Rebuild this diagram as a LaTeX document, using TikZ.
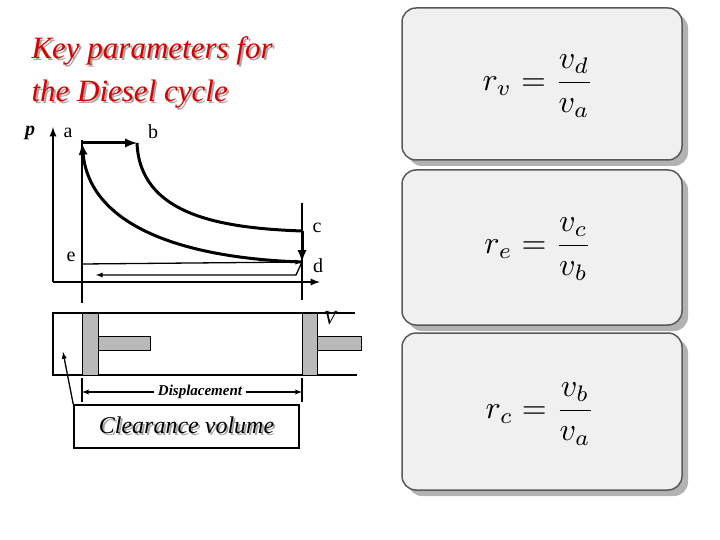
\documentclass[tikz,border=0pt]{standalone}
\usepackage{fontspec}
\setmainfont{Liberation Serif}
\newcommand{\shadowtxt}[1]{\rlap{\hspace{2pt}\raisebox{-2pt}{\color{gray!70}#1}}#1}
\begin{document}
\begin{tikzpicture}[x=1pt,y=-1pt,
  thick line/.style={line width=3pt},
  thin line/.style={line width=1.3pt},
  lbl/.style={font=\fontsize{20}{22}\selectfont},
  panel/.style={draw=gray!70!black,line width=1.5pt,rounded corners=14pt,fill=gray!12},
  shadowp/.style={fill=gray!60,rounded corners=14pt},
  piston/.style={fill=gray!55,draw=black,line width=1pt},
  eq/.style={scale=3.2},
  title/.style={font=\fontsize{31}{36}\selectfont\itshape,anchor=west,text=red!85!black}]
\useasboundingbox (0,0) rectangle (720,540);
% title
\node[title] (t1) at (28,52) {\shadowtxt{Key parameters for}};
\node[title] (t2) at (28,95) {\shadowtxt{the Diesel cycle}};
% axes
\coordinate (o) at (53,282);
\coordinate (ptop) at (53,127);
\coordinate (vend) at (320,282);
\draw[line width=2.2pt,-latex] (o) -- (ptop);
\draw[line width=2.2pt,-latex] (o) -- (vend);
\node[lbl,font=\fontsize{20}{22}\selectfont\bfseries\itshape] (p) at (30,133) {p};
% points
\coordinate (a) at (82,143);
\coordinate (b) at (137,143);
\coordinate (c) at (302,231);
\coordinate (d) at (302,262);
\coordinate (e) at (82,264);
\draw[thin line] (82,140) -- (82,303);
\draw[thin line] (302,203) -- (302,300);
\draw[thick line,-latex] (a) -- (b);
\draw[thick line] (b) .. controls (140,215) and (220,228) .. (c);
\draw[thick line,-latex] (c) -- (d);
\draw[thick line,-latex] (d) .. controls (180,258) and (90,225) .. (a);
\draw[thin line,-latex] (e) -- (d);
\coordinate (r1) at (296,275);
\coordinate (r2) at (96,275);
\draw[thin line,-latex] (d) -- (r1) -- (r2);
\node[lbl] (la) at (68,133) {a};
\node[lbl] (lb) at (153,132) {b};
\node[lbl] (lc) at (317,228) {c};
\node[lbl] (ld) at (318,266) {d};
\node[lbl] (le) at (71,257) {e};
% cylinder
\draw[line width=2.5pt] (355,313) -- (53,313) -- (53,375) -- (357,375);
\draw[piston] (82,313) rectangle (98,375);
\draw[piston] (98,336) rectangle (150,350);
\draw[piston] (302,313) rectangle (317,375);
\draw[piston] (317,336) rectangle (361,350);
\node[lbl,font=\fontsize{20}{22}\selectfont\itshape] (V) at (330,318) {V};
% displacement
\draw[thin line] (82,378) -- (82,402);
\draw[thin line] (302,378) -- (302,402);
\node[font=\fontsize{15}{17}\selectfont\bfseries\itshape] (disp) at (200,392) {Displacement};
\coordinate (dl) at (82,392);
\coordinate (dr) at (302,392);
\draw[thin line,-latex] (disp.west) -- (dl);
\draw[thin line,-latex] (disp.east) -- (dr);
% clearance
\node[draw,line width=1.5pt,minimum width=225pt,minimum height=43pt,font=\fontsize{24}{28}\selectfont\itshape] (cl) at (186.5,426.5) {\shadowtxt{Clearance volume}};
\coordinate (clp) at (63,352);
\draw[thin line,-latex] (cl.north west) -- (clp);
% panels
\foreach \yt/\yb/\n in {8/160/1,170/325/2,333/490/3}{
  \fill[shadowp] (408,\yt+6) rectangle (688,\yb+6);
  \draw[panel] (402,\yt) rectangle (682,\yb);
}
\node[eq] (e1) at (538,86) {$\displaystyle r_v=\frac{v_d}{v_a}$};
\node[eq] (e2) at (538,249) {$\displaystyle r_e=\frac{v_c}{v_b}$};
\node[eq] (e3) at (540,414) {$\displaystyle r_c=\frac{v_b}{v_a}$};
\end{tikzpicture}
\end{document}
